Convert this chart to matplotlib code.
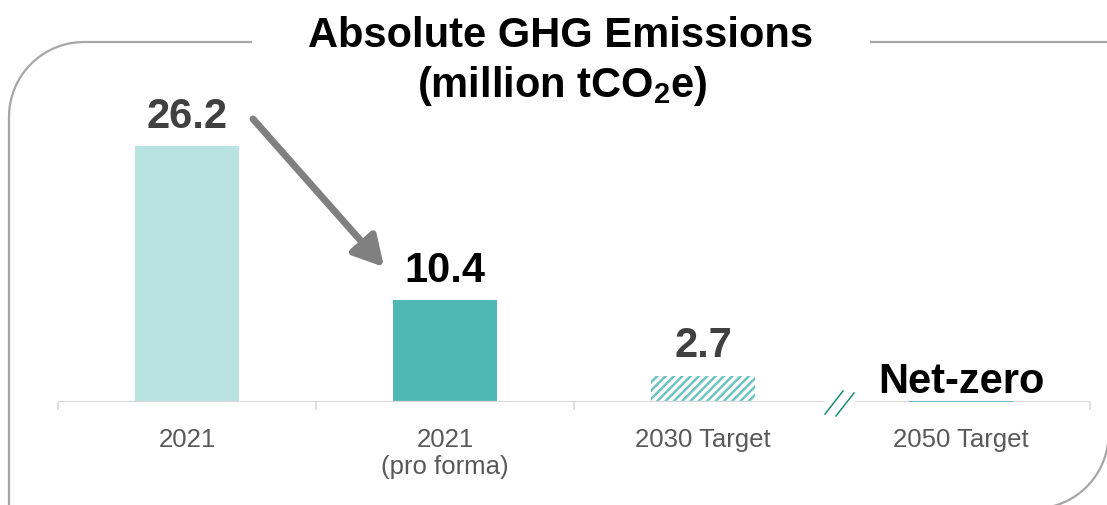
"""Absolute GHG emissions bar chart with targets."""

import numpy as np
import matplotlib

matplotlib.use("Agg")
from matplotlib import pyplot as plt

categories = ["2021", "2021\n(pro forma)", "2030 Target", "2050 Target"]
emissions = [26.2, 10.4, 2.7, 0.0]
value_labels = ["26.2", "10.4", "2.7", "Net-zero"]

LIGHT = "#B9E3E1"
TEAL = "#4FB8B5"
HATCH = "#6CC6C1"
FRAME = "#A6A6A6"
AXIS = "#D9D9D9"

plt.rcParams["font.family"] = ["Liberation Sans", "DejaVu Sans"]
plt.rcParams["mathtext.fontset"] = "custom"
plt.rcParams["mathtext.rm"] = "Liberation Sans:bold"
plt.rcParams["mathtext.bf"] = "Liberation Sans:bold"
plt.rcParams["hatch.linewidth"] = 1.8

W, H = 1107, 506
fig = plt.figure(figsize=(W / 100, H / 100), dpi=100)

# overlay in pixel coordinates for the frame, title and arrow
ov = fig.add_axes([0, 0, 1, 1])
ov.set_xlim(0, W)
ov.set_ylim(H, 0)
ov.axis("off")

# round diagonal corner frame
r = 75
t = np.linspace(np.pi, 1.5 * np.pi, 40)
left_x = np.concatenate([[252, 9 + r], 9 + r + r * np.cos(t[::-1]), [9]])
left_y = np.concatenate([[43, 43], 43 + r + r * np.sin(t[::-1]), [H + 5]])
ov.plot(left_x, left_y, color=FRAME, lw=1.6, solid_capstyle="butt")
ov.plot([870, W], [43, 43], color=FRAME, lw=1.6, solid_capstyle="butt")
t2 = np.linspace(0, 0.5 * np.pi, 40)
ov.plot(1033.6 + r * np.cos(t2), 434.75 + r * np.sin(t2), color=FRAME, lw=1.6)

ov.text(561, 47, "Absolute GHG Emissions", ha="center", va="baseline",
        fontsize=30, fontweight="bold", color="black")
ov.text(562, 97, r"(million tCO$_{\mathbf{2}}$e)", ha="center", va="baseline",
        fontsize=30, fontweight="bold", color="black")

ov.annotate("", xy=(384, 268), xytext=(253, 120),
            arrowprops=dict(arrowstyle="-|>,head_length=0.45,head_width=0.25",
                            lw=5, color="#808080", mutation_scale=40,
                            shrinkA=0, shrinkB=0))

# axis break marks
ov.plot([825, 843], [415, 392], color="#1E8C6E", lw=1.1)
ov.plot([836, 854], [417, 394], color="#1E8C6E", lw=1.1)

# main chart
ax = fig.add_axes([58 / W, 103 / H, 1032 / W, 403 / H])
ax.patch.set_alpha(0)
x = np.arange(len(categories))
width = 0.405

ax.bar(x[0], emissions[0], width, color=LIGHT)
ax.bar(x[1], emissions[1], width, color=TEAL)
ax.bar(x[2], emissions[2], width, facecolor="white", edgecolor=HATCH,
       hatch="////", lw=0)

label_colors = ["#404040", "black", "#404040", "black"]
offsets = [14, 14, 14, 7]
for xi, val, lab, c, off in zip(x, emissions, value_labels, label_colors, offsets):
    ax.annotate(lab, (xi, val), xytext=(0, off), textcoords="offset points",
                ha="center", va="baseline", fontsize=30, fontweight="bold",
                color=c)

ax.set_xlim(-0.5, len(categories) - 0.5)
ax.set_ylim(0, 41.25)

# baseline with a gap for the break
ax.plot([-0.5, 2.469], [0, 0], color=AXIS, lw=1.6, solid_capstyle="butt")
ax.plot([2.589, 3.5], [0, 0], color=AXIS, lw=1.6, solid_capstyle="butt")
# net-zero drawn as a flat line on top of the baseline
ax.hlines(emissions[3], x[3] - width / 2, x[3] + width / 2, color=TEAL,
          lw=1.2, zorder=4)

for side in ["top", "right", "left", "bottom"]:
    ax.spines[side].set_visible(False)
ax.set_yticks([])
ax.set_xticks([-0.5, 0.5, 1.5, 3.5])
ax.set_xticklabels([])
ax.tick_params(axis="x", which="major", length=6, width=1.2, color=AXIS,
               direction="out")
ax.set_xticks(x, minor=True)
ax.set_xticklabels(categories, minor=True, fontsize=18.5, color="#595959",
                   linespacing=1.15)
ax.tick_params(axis="x", which="minor", length=0, pad=18)

fig.savefig("out.png", dpi=100)
